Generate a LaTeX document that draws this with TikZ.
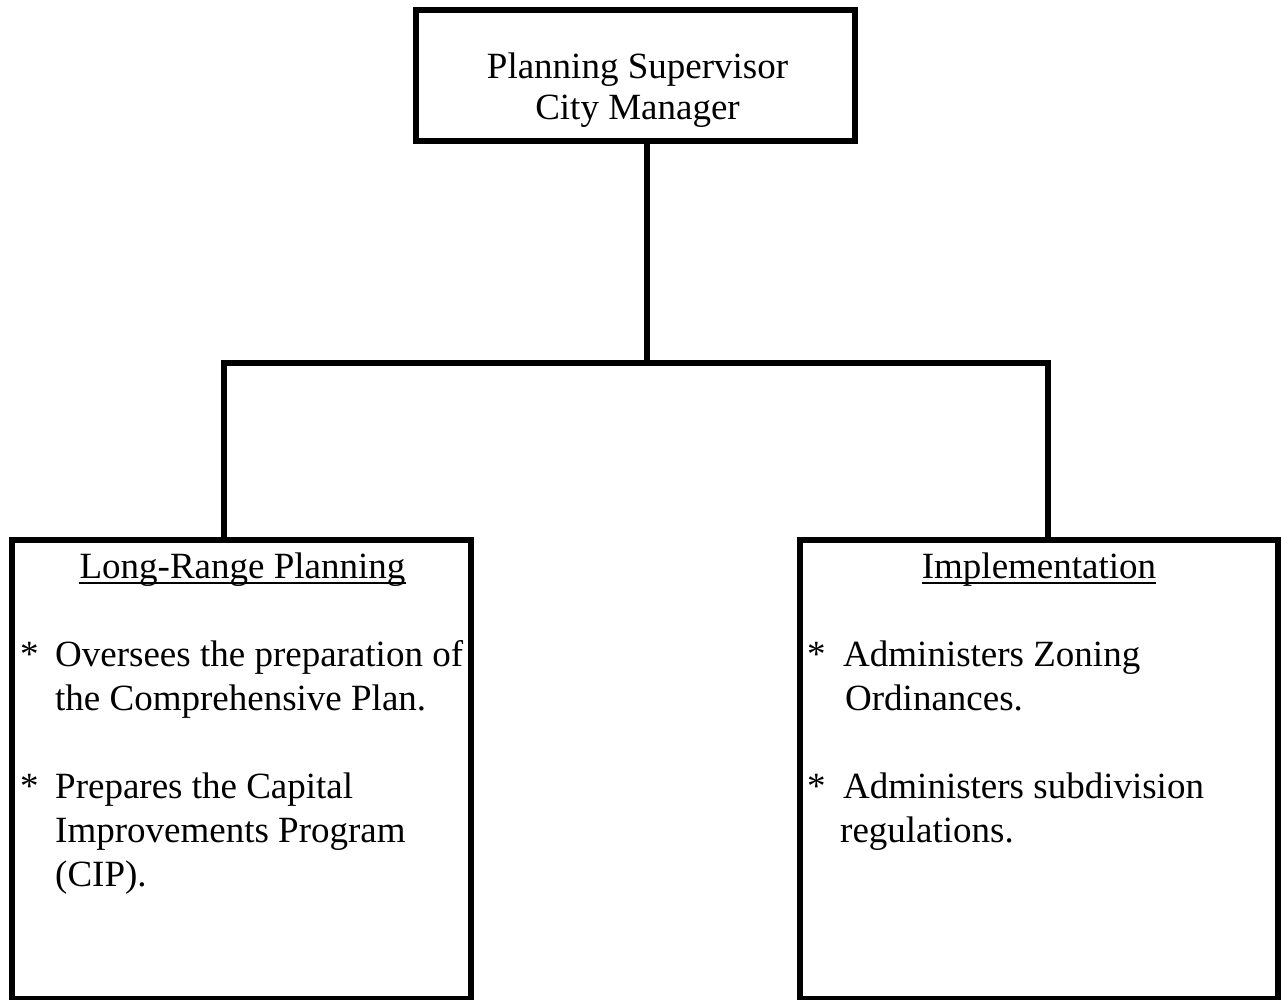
\documentclass[tikz,border=0pt]{standalone}
\usepackage{fontspec}
\setmainfont{Liberation Serif}
\begin{document}
\begin{tikzpicture}[x=1pt,y=-1pt,
  box/.style={draw=black, line width=6pt, rectangle, inner sep=0pt, fill=white},
  conn/.style={draw=black, line width=6pt, line join=miter},
  txt/.style={inner sep=0pt, font=\fontsize{37}{44}\selectfont},
  uline/.style={draw=black, line width=2pt}]
\useasboundingbox[fill=white] (0,0) rectangle (1281,1000);
% boxes
\node[box, minimum width=439pt, minimum height=131pt] (top) at (635.5,75.5) {};
\node[box, minimum width=459pt, minimum height=459pt] (lbox) at (241.5,769.5) {};
\node[box, minimum width=478pt, minimum height=459pt] (rbox) at (1039,769.5) {};
% junction points
\coordinate (jT) at (647,363);
\coordinate (jL) at (224,363);
\coordinate (jR) at (1048,363);
% connectors
\draw[conn] (top.south -| jT) -- (jT);
\draw[conn] (lbox.north -| jL) -- (jL) -- (jR) -- (rbox.north -| jR);
% top box text
\node[txt, anchor=base] (t1) at (637.5,79) {Planning Supervisor};
\node[txt, anchor=base] (t2) at (637.5,120) {City Manager};
% left box text
\node[txt, anchor=base] (lh) at (242.5,578) {Long-Range Planning};
\draw[uline] ([yshift=-5pt]lh.base west) -- ([yshift=-5pt]lh.base east);
\node[txt, anchor=base west] (la1) at (20,666) {*};
\node[txt, anchor=base west] (l1) at (55,666) {Oversees the preparation of};
\node[txt, anchor=base west] (l2) at (55,710) {the Comprehensive Plan.};
\node[txt, anchor=base west] (la2) at (20,798) {*};
\node[txt, anchor=base west] (l3) at (55,798) {Prepares the Capital};
\node[txt, anchor=base west] (l4) at (55,842) {Improvements Program};
\node[txt, anchor=base west] (l5) at (55,886) {(CIP).};
% right box text
\node[txt, anchor=base] (rh) at (1039,578) {Implementation};
\draw[uline] ([yshift=-5pt]rh.base west) -- ([yshift=-5pt]rh.base east);
\node[txt, anchor=base west] (ra1) at (807,666) {*};
\node[txt, anchor=base west] (r1) at (843,666) {Administers Zoning};
\node[txt, anchor=base west] (r2) at (845,710) {Ordinances.};
\node[txt, anchor=base west] (ra2) at (807,798) {*};
\node[txt, anchor=base west] (r3) at (843,798) {Administers subdivision};
\node[txt, anchor=base west] (r4) at (840,842) {regulations.};
\end{tikzpicture}
\end{document}
